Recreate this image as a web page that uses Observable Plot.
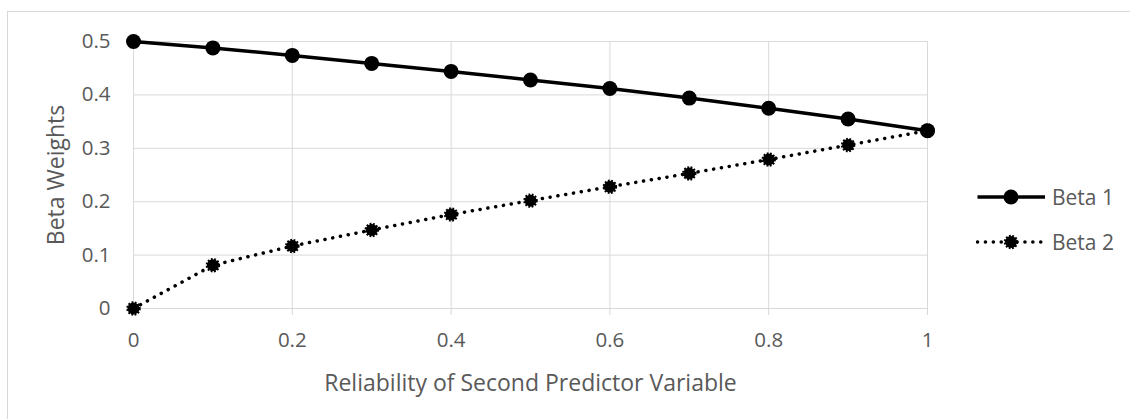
<!DOCTYPE html>
<html>
<head>
<meta charset="utf-8">
<script src="https://cdn.jsdelivr.net/npm/d3@7"></script>
<script src="https://cdn.jsdelivr.net/npm/@observablehq/plot@0.6"></script>
<style>
  body { margin: 0; background: #fff; }
  #wrap { position: relative; width: 1130px; height: 419px; overflow: hidden; font-family: "Open Sans", sans-serif; }
  #frame { position: absolute; left: 7px; top: 11px; width: 1300px; height: 600px; border-left: 1px solid #d9d9d9; border-top: 1px solid #d9d9d9; box-sizing: border-box; }
  #chart { position: absolute; left: 0; top: 0; }
  #chart g[aria-label="x-axis tick"] { stroke: #d9d9d9; }
  #chart g[aria-label="x-axis label"], #chart g[aria-label="y-axis label"] { font-size: 23px; }
  #legend { position: absolute; left: 976px; top: 183px; }
  .item { display: flex; align-items: center; height: 28px; margin-bottom: 17px; }
  .item svg { display: block; }
  .item span { margin-left: 6px; font-size: 21px; color: #595959; line-height: 28px; }
</style>
</head>
<body>
<div id="wrap">
  <div id="frame"></div>
  <div id="chart"></div>
  <div id="legend"></div>
</div>
<script>
const xValues = [0, 0.1, 0.2, 0.3, 0.4, 0.5, 0.6, 0.7, 0.8, 0.9, 1];
const beta1 = [0.5, 0.488, 0.474, 0.459, 0.444, 0.428, 0.412, 0.394, 0.375, 0.355, 0.333];
const beta2 = [0, 0.081, 0.117, 0.147, 0.176, 0.202, 0.228, 0.253, 0.279, 0.306, 0.333];
const seriesNames = ["Beta 1", "Beta 2"];
const xTicks = [0, 0.2, 0.4, 0.6, 0.8, 1];
const xTickLabels = ["0", "0.2", "0.4", "0.6", "0.8", "1"];
const yTicks = [0, 0.1, 0.2, 0.3, 0.4, 0.5];
const yTickLabels = ["0", "0.1", "0.2", "0.3", "0.4", "0.5"];
const xTitle = "Reliability of Second Predictor Variable";
const yTitle = "Beta Weights";

const rows1 = xValues.map((x, i) => ({x, y: beta1[i], s: seriesNames[0]}));
const rows2 = xValues.map((x, i) => ({x, y: beta2[i], s: seriesNames[1]}));

const dotted = {strokeDasharray: "0.1 7.8", strokeLinecap: "round"};

const chart = Plot.plot({
  width: 1130,
  height: 419,
  marginLeft: 133,
  marginRight: 203,
  marginTop: 41,
  marginBottom: 111,
  x: {domain: [0, 1]},
  y: {domain: [0, 0.5]},
  style: {fontFamily: "Open Sans, sans-serif", fontSize: "20.5px", color: "#595959", background: "transparent", overflow: "visible"},
  marks: [
    Plot.gridY(yTicks, {stroke: "#d9d9d9", strokeOpacity: 1, strokeWidth: 1}),
    Plot.gridX(xTicks, {stroke: "#d9d9d9", strokeOpacity: 1, strokeWidth: 1}),
    Plot.axisX(xTicks, {
      tickSize: 7, tickPadding: 17,
      tickFormat: d => xTickLabels[xTicks.indexOf(d)],
      label: xTitle, labelAnchor: "center", labelOffset: 82, labelArrow: false
    }),
    Plot.axisY(yTicks, {
      tickSize: 0, tickPadding: 23,
      tickFormat: d => yTickLabels[yTicks.indexOf(d)],
      label: yTitle, labelAnchor: "center", labelOffset: 86, labelArrow: false
    }),
    Plot.line(rows2, {x: "x", y: "y", stroke: "#000", strokeWidth: 3.5, ...dotted}),
    Plot.line(rows1, {x: "x", y: "y", stroke: "#000", strokeWidth: 3.5}),
    Plot.dot(rows2, {x: "x", y: "y", r: 6, fill: "#000", stroke: "#000", strokeWidth: 2.5, strokeDasharray: "1.7 1.5"}),
    Plot.dot(rows1, {x: "x", y: "y", r: 7.5, fill: "#000", stroke: "none"})
  ]
});
document.getElementById("chart").append(chart);

// Legend
const legend = d3.select("#legend");
seriesNames.forEach((name, i) => {
  const item = legend.append("div").attr("class", "item");
  const svg = item.append("svg").attr("width", 70).attr("height", 28);
  const ln = svg.append("line").attr("x1", 1.5).attr("x2", 69).attr("y1", 14).attr("y2", 14)
    .attr("stroke", "#000").attr("stroke-width", 3.5);
  if (i === 1) ln.attr("stroke-dasharray", "0.1 7.8").attr("stroke-linecap", "round");
  const c = svg.append("circle").attr("cx", 35).attr("cy", 14).attr("fill", "#000");
  if (i === 0) c.attr("r", 7.5);
  else c.attr("r", 6).attr("stroke", "#000").attr("stroke-width", 2.5).attr("stroke-dasharray", "1.7 1.5");
  item.append("span").text(name);
});
</script>
</body>
</html>
